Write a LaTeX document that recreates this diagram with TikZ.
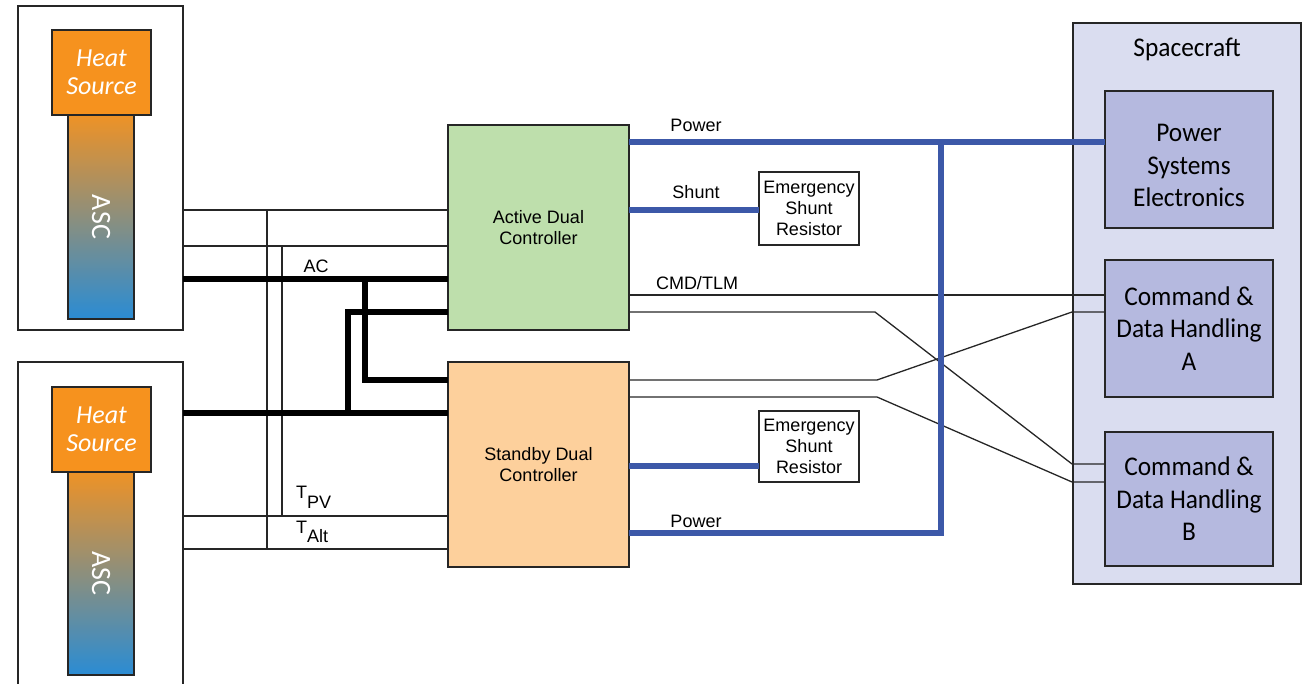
\documentclass[tikz,border=0pt]{standalone}
\usepackage{fontspec}
\setmainfont{Liberation Sans}
\newfontfamily\condfont[FakeStretch=0.94]{Carlito}
\newfontfamily\heatfont{Carlito}
\usetikzlibrary{positioning, calc}
\definecolor{ctrlgreen}{RGB}{190,223,172}
\definecolor{ctrlorange}{RGB}{253,208,156}
\definecolor{heatorange}{RGB}{246,146,30}
\definecolor{ascorange}{RGB}{238,146,38}
\definecolor{ascblue}{RGB}{42,140,212}
\definecolor{craftfill}{RGB}{218,221,240}
\definecolor{unitfill}{RGB}{181,185,223}
\definecolor{busblue}{RGB}{60,88,168}

\tikzset{
  box/.style={draw=black!85, line width=1.3pt, inner sep=0pt, outer sep=0pt, align=center, anchor=north west},
  wire/.style={black!85, line width=1.3pt},
  thickwire/.style={black, line width=6pt},
  buswire/.style={busblue, line width=6pt},
  lbl/.style={font=\fontsize{18}{20}\selectfont, inner sep=0pt},
  ctrltext/.style={font=\fontsize{18}{21}\selectfont},
  crafttext/.style={font=\condfont\fontsize{27}{32.5}\selectfont},
  heattext/.style={text=white, font=\heatfont\itshape\fontsize{26}{28}\selectfont},
}

\begin{document}
\begin{tikzpicture}[x=1pt, y=-1pt]
  \useasboundingbox (0,0) rectangle (1303,684);
  \clip (0,0) rectangle (1303,684);

  % heat source panels
  \node[box, minimum width=165, minimum height=324] (panelA) at (18,6) {};
  \node[box, fill=heatorange, minimum width=99, minimum height=85, heattext] (heatA) at (52,30) {Heat\\Source};
  \node[box, top color=ascorange, bottom color=ascblue, minimum width=66, minimum height=204] (ascA) at (68,115) {};
  \node[rotate=-90, text=white, font=\heatfont\fontsize{28}{30}\selectfont] (ascAtxt) at (ascA.center) {ASC};

  \node[box, minimum width=165, minimum height=340] (panelB) at (18,362) {};
  \node[box, fill=heatorange, minimum width=99, minimum height=85, heattext] (heatB) at (52,387) {Heat\\Source};
  \node[box, top color=ascorange, bottom color=ascblue, minimum width=66, minimum height=203] (ascB) at (68,472) {};
  \node[rotate=-90, text=white, font=\heatfont\fontsize{28}{30}\selectfont] (ascBtxt) at (ascB.center) {ASC};

  % controllers
  \node[box, fill=ctrlgreen, minimum width=181, minimum height=205, ctrltext] (active) at (448,125) {Active Dual\\Controller};
  \node[box, fill=ctrlorange, minimum width=181, minimum height=205, ctrltext] (standby) at (448,362) {Standby Dual\\Controller};
  \node[box, fill=white, minimum width=100, minimum height=73, ctrltext] (esrA) at (759,172) {Emergency\\Shunt\\Resistor};
  \node[box, fill=white, minimum width=100, minimum height=71, ctrltext] (esrB) at (759,411) {Emergency\\Shunt\\Resistor};

  % spacecraft side
  \node[box, fill=craftfill, minimum width=228, minimum height=561] (craft) at (1073,23) {};
  \node[crafttext, inner sep=0pt] (craftlbl) at (craft.north |- 0,49) {Spacecraft};
  \node[box, fill=unitfill, minimum width=168, minimum height=137,
        label={[crafttext, align=center, yshift=-6pt]center:Power\\Systems\\Electronics}] (pse) at (1105,91) {};
  \node[box, fill=unitfill, minimum width=168, minimum height=137, crafttext] (cdhA) at (1105,260) {Command \&\\Data Handling\\A};
  \node[box, fill=unitfill, minimum width=168, minimum height=134, crafttext] (cdhB) at (1105,432) {Command \&\\Data Handling\\B};

  % temperature lines
  \draw[wire] (panelA.east |- 0,210) -- (active.west |- 0,210);
  \draw[wire] (panelA.east |- 0,246) -- (active.west |- 0,246);
  \draw[wire] (panelB.east |- 0,516) -- (standby.west |- 0,516);
  \draw[wire] (panelB.east |- 0,549) -- (standby.west |- 0,549);
  \draw[wire] (267,210) -- (267,549);
  \draw[wire] (282,246) -- (282,516);

  % AC lines
  \draw[thickwire] (panelA.east |- 0,279) -- (active.west |- 0,279);
  \draw[thickwire] (panelB.east |- 0,413) -- (standby.west |- 0,413);
  \draw[thickwire] (365,279) |- (standby.west |- 0,380);
  \draw[thickwire] (active.west |- 0,312) -| (348,413);

  % CMD/TLM lines
  \draw[wire] (active.east |- 0,295) -- (cdhA.west |- 0,295);
  \draw[wire] (active.east |- 0,312) -- (875,312) -- (1072,464) -- (cdhB.west |- 0,464);
  \draw[wire] (standby.east |- 0,380) -- (877,380) -- (1072,312) -- (cdhA.west |- 0,312);
  \draw[wire] (standby.east |- 0,397) -- (877,397) -- (1072,482) -- (cdhB.west |- 0,482);

  % power and shunt
  \draw[buswire] (active.east |- 0,142) -- (pse.west |- 0,142);
  \draw[buswire] (standby.east |- 0,533) -| (941,139);
  \draw[buswire] (active.east |- 0,210) -- (esrA.west |- 0,210);
  \draw[buswire] (standby.east |- 0,466) -- (esrB.west |- 0,466);

  % labels
  \node[lbl, anchor=base] (pwrAlbl) at (696,132) {Power};
  \node[lbl, anchor=base] (shuntlbl) at (696,199) {Shunt};
  \node[lbl, anchor=base] (cmdlbl) at (697,290) {CMD/TLM};
  \node[lbl, anchor=base] (pwrBlbl) at (696,527) {Power};
  \node[lbl, anchor=base] (aclbl) at (316,273) {AC};
  \node[lbl, anchor=base west] (tpvlbl) at (296,498) {T\raisebox{-10pt}{PV}};
  \node[lbl, anchor=base west] (taltlbl) at (296,533) {T\raisebox{-9pt}{Alt}};
\end{tikzpicture}
\end{document}
